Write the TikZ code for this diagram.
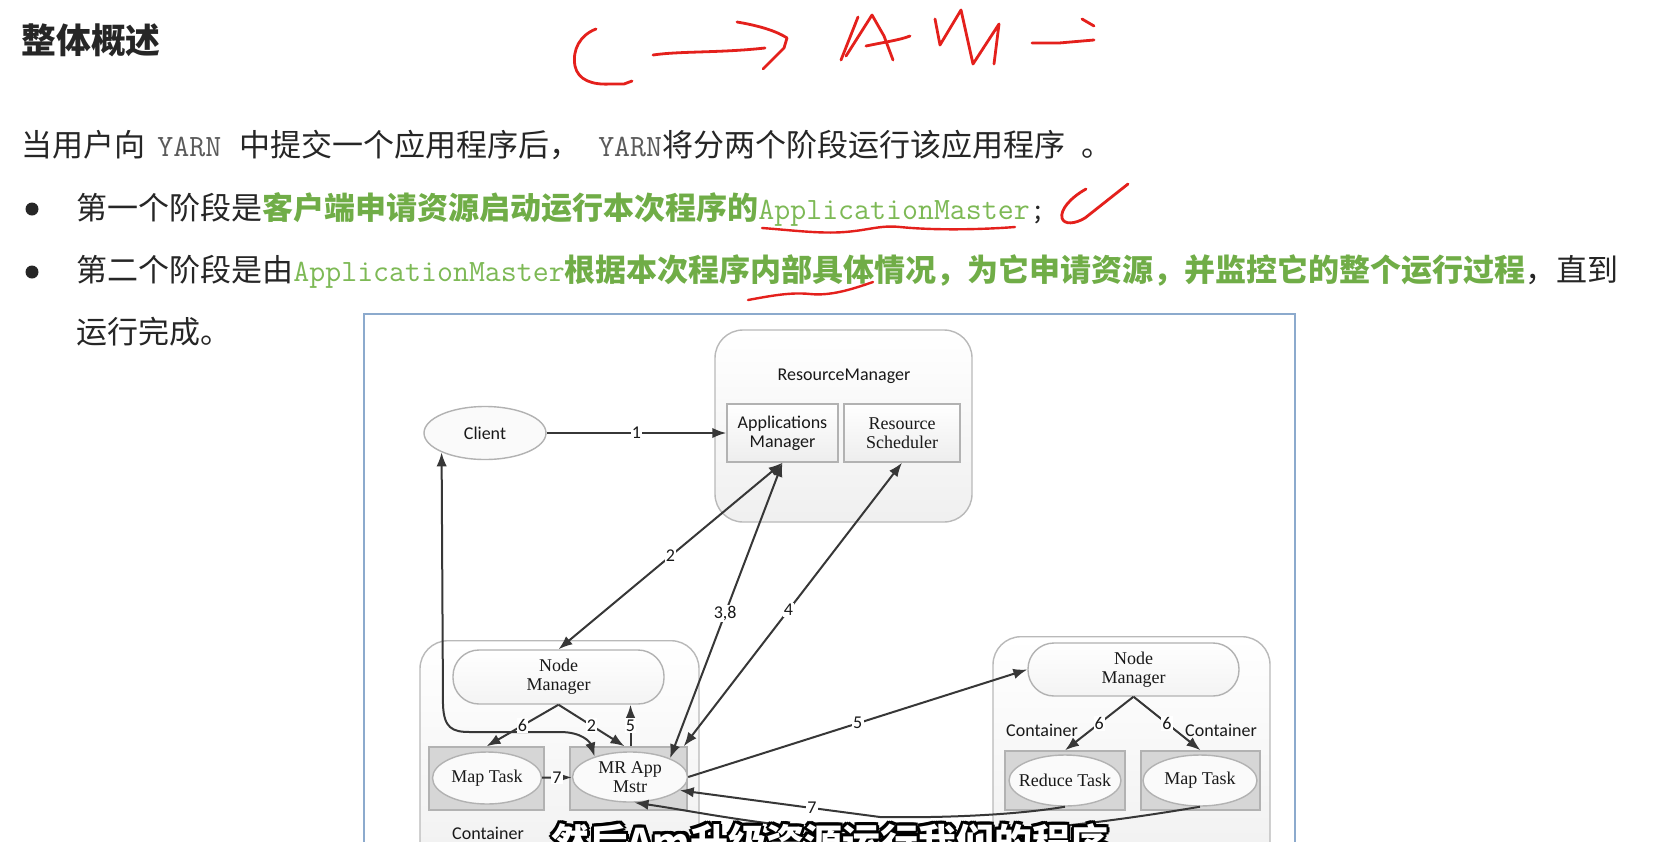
\documentclass[tikz,border=0pt]{standalone}
\usepackage{fontspec}
\usetikzlibrary{arrows.meta,shapes.geometric}
\newfontfamily\cjk{Noto Sans CJK SC}
\newfontfamily\calib{Carlito}
\newfontfamily\tms{Liberation Serif}
\definecolor{inkgray}{RGB}{38,38,38}
\definecolor{hlgreen}{RGB}{112,173,71}
\definecolor{monogreen}{RGB}{125,185,85}
\definecolor{yarngray}{RGB}{90,90,90}
\definecolor{penred}{RGB}{228,32,28}
\definecolor{framebl}{RGB}{140,170,205}
\definecolor{arrowgray}{RGB}{55,55,55}

\begin{document}
\begin{tikzpicture}[
  x=0.5pt, y=-0.5pt,
  >={Latex[length=7pt,width=5.2pt]},
  txt/.style={anchor=west, inner sep=0pt, text=inkgray, font=\cjk\fontsize{15.5}{18}\selectfont},
  bulletdot/.style={circle, fill=inkgray, inner sep=0pt, minimum size=6.5pt},
  pen/.style={penred, line width=1.4pt, line cap=round, line join=round},
  outerbox/.style={draw=gray!55, rounded corners=14pt, top color=white, bottom color=gray!12, line width=0.7pt},
  innerbox/.style={draw=gray!60, top color=white, bottom color=gray!14, line width=0.7pt, align=center, text=black!90},
  pill/.style={draw=gray!60, rounded corners=13pt, top color=white, bottom color=gray!9, line width=0.7pt,
               align=center, text=black!90, font=\tms\fontsize{9}{9.5}\selectfont},
  taskbox/.style={draw=gray!60, fill=gray!32, line width=0.7pt},
  task/.style={ellipse, draw=gray!60, fill=gray!4, line width=0.7pt, inner xsep=-4pt, inner ysep=-1pt,
               align=center, text=black!90, font=\tms\fontsize{9}{9.5}\selectfont},
  lbl/.style={font=\calib\fontsize{9}{10}\selectfont, text=black!90},
  num/.style={font=\calib\fontsize{9}{10}\selectfont, fill=white, inner sep=0.6pt, text=black!90},
  flow/.style={arrowgray, line width=1pt},
  subtitle/.style={anchor=base, inner sep=0pt, font=\cjk\bfseries\fontsize{19}{22}\selectfont},
]
  \useasboundingbox (0,0) rectangle (1653,841);
  \clip (0,0) rectangle (1653,841);
  \fill[white] (0,0) rectangle (1653,841);

  % Slide text
  \node[txt, font=\cjk\bfseries\fontsize{17.4}{20}\selectfont] (title) at (21,40) {整体概述};
  \node[txt] (intro) at (21,145) {当用户向\hspace{6pt}{\ttfamily\color{yarngray}YARN}\hspace{9pt}中提交一个应用程序后，\hspace{9pt}{\ttfamily\color{yarngray}YARN}将分两个阶段运行该应用程序\hspace{8pt}。};
  \node[bulletdot] (dotone) at (32,209) {};
  \node[txt] (stepone) at (76,209) {第一个阶段是{\bfseries\color{hlgreen}客户端申请资源启动运行本次程序的}{\ttfamily\color{monogreen}ApplicationMaster}{\ttfamily;}};
  \node[bulletdot] (dottwo) at (32,272) {};
  \node[txt] (steptwo) at (76,272) {第二个阶段是由{\ttfamily\color{monogreen}ApplicationMaster}{\bfseries\color{hlgreen}根据本次程序内部具体情况，为它申请资源，并监控它的整个运行过程}，直到};
  \node[txt] (stepend) at (76,332) {运行完成。};

  % Picture frame
  \draw[framebl, line width=0.9pt] (364,314) rectangle (1295,870);

  % ResourceManager
  \node[outerbox, minimum width=128.5pt, minimum height=96pt] (rm) at (843.5,426) {};
  \node[lbl] (rmname) at (844,376) {ResourceManager};
  \node[innerbox, minimum width=55.5pt, minimum height=29pt, font=\calib\fontsize{9}{9.5}\selectfont] (appmgr) at (782.5,433) {Applications\\Manager};
  \node[innerbox, minimum width=58pt, minimum height=29pt, font=\tms\fontsize{9}{9.5}\selectfont] (ressched) at (902,433) {Resource\\Scheduler};
  \node[task, minimum width=61pt, minimum height=26.5pt, font=\calib\fontsize{9}{10}\selectfont] (client) at (485,433) {Client};

  % Left node
  \node[outerbox, minimum width=139.5pt, minimum height=120pt, anchor=north] (hostleft) at (559.5,640) {};
  \node[pill, minimum width=105.5pt, minimum height=27pt] (nmleft) at (558.5,677) {Node\\Manager};
  \node[taskbox, minimum width=57.5pt, minimum height=31.5pt] (mapboxL) at (486.5,778.5) {};
  \node[task, minimum width=54.5pt, minimum height=26pt] (mapL) at (487,778) {Map Task};
  \node[taskbox, minimum width=58.5pt, minimum height=31.5pt] (mrbox) at (628.5,778.5) {};
  \node[task, minimum width=57.5pt, minimum height=25pt] (mr) at (630,777) {MR App\\Mstr};
  \node[lbl] (contL) at (488,833) {Container};

  % Right node
  \node[outerbox, minimum width=138.5pt, minimum height=120pt, anchor=north] (hostright) at (1131.5,636) {};
  \node[pill, minimum width=105.5pt, minimum height=26.5pt] (nmright) at (1133.5,669.5) {Node\\Manager};
  \node[taskbox, minimum width=60pt, minimum height=29.5pt] (reducebox) at (1065,780.5) {};
  \node[task, minimum width=56pt, minimum height=25.5pt] (reduce) at (1065,780.5) {Reduce Task};
  \node[taskbox, minimum width=59.5pt, minimum height=29.5pt] (mapboxR) at (1200.5,780.5) {};
  \node[task, minimum width=57pt, minimum height=25.5pt] (mapR) at (1200,780.5) {Map Task};
  \node[lbl] (contRa) at (1042,730) {Container};
  \node[lbl] (contRb) at (1221,730) {Container};

  % Connectors
  \draw[flow,->] (client) -- node[num] {1} (appmgr);
  \draw[flow,<->] (appmgr.south) -- node[num] {2} (nmleft.north);
  \draw[flow,<->] (mr.25) -- node[num, pos=0.49] {3,8} (appmgr.south);
  \draw[flow,<->] ([xshift=-2pt]mrbox.north east) -- node[num, pos=0.48] {4} (ressched.south);
  \draw[flow,->] (mr.east) -- node[num] {5} (nmright.west);
  \draw[flow,<->] (client.204) -- (443,705) .. controls (444,728) and (452,732) .. (470,732)
    -- (560,732) .. controls (582,732) and (590,742) .. (mr.150);
  \draw[flow,->] (nmleft.south) -- node[num] {6} (mapboxL.north);
  \draw[flow,->] (nmleft.south) -- node[num] {2} ([xshift=-2pt]mrbox.north);
  \draw[flow,->] ([xshift=1pt]mrbox.north) -- node[num] {5} ([xshift=1pt]mrbox.north |- nmleft.south);
  \draw[flow,->] (mapL) -- node[num] {7} (mr);
  \draw[flow,->] (nmright.south) -- node[num] {6} (reducebox.north);
  \draw[flow,->] (nmright.south) -- node[num] {6} (mapboxR.north);
  \draw[flow,->] (mapR.south) .. controls (1110,822) and (1000,836) .. (900,834)
    .. controls (780,830) and (700,812) .. (mr.-80);
  \draw[flow,->] (reduce.south) .. controls (1010,816) and (930,818) .. (880,817)
    -- (812,808) node[num] {7} -- (mr.-15);

  % Handwriting
  \draw[pen] (596,29) .. controls (580,35) and (572,50) .. (575,66) .. controls (578,80) and (592,85) .. (610,84) -- (624,84) -- (632,81);
  \draw[pen] (653,55) .. controls (680,51) and (720,53) .. (765,48);
  \draw[pen] (737,22) .. controls (755,25) and (775,30) .. (787,38) -- (784,48) -- (763,69);
  \draw[pen] (841,60) -- (858,17);
  \draw[pen] (846,56) -- (872,15) -- (884,36) -- (893,60);
  \draw[pen] (866,46) .. controls (885,42) and (900,40) .. (910,36);
  \draw[pen] (935,19) -- (940,45) -- (961,10) -- (973,64) -- (999,24) -- (994,64);
  \draw[pen] (1032,43) -- (1059,43) -- (1094,40);
  \draw[pen] (1082,19) -- (1094,26);
  \draw[pen] (1086,189) .. controls (1070,198) and (1060,210) .. (1062,218) .. controls (1064,225) and (1075,224) .. (1085,218) -- (1128,184);
  \draw[pen, line width=1.2pt] (762,228) .. controls (790,230) and (820,234) .. (845,232) .. controls (870,230) and (880,225) .. (900,227) .. controls (940,231) and (990,229) .. (1015,227);
  \draw[pen, line width=1.2pt] (748,300) .. controls (770,296) and (790,292) .. (810,294) .. controls (830,296) and (850,290) .. (873,282);

  % Subtitle
  \foreach \dx/\dy [count=\k] in {1.5/0,-1.5/0,0/1.5,0/-1.5,1.1/1.1,1.1/-1.1,-1.1/1.1,-1.1/-1.1} {
    \node[subtitle, text=black, xshift=\dx pt, yshift=\dy pt] (subshade\k) at (830,856) {然后Am升级资源运行我们的程序};
  }
  \node[subtitle, text=white] (subtext) at (830,856) {然后Am升级资源运行我们的程序};
\end{tikzpicture}
\end{document}
